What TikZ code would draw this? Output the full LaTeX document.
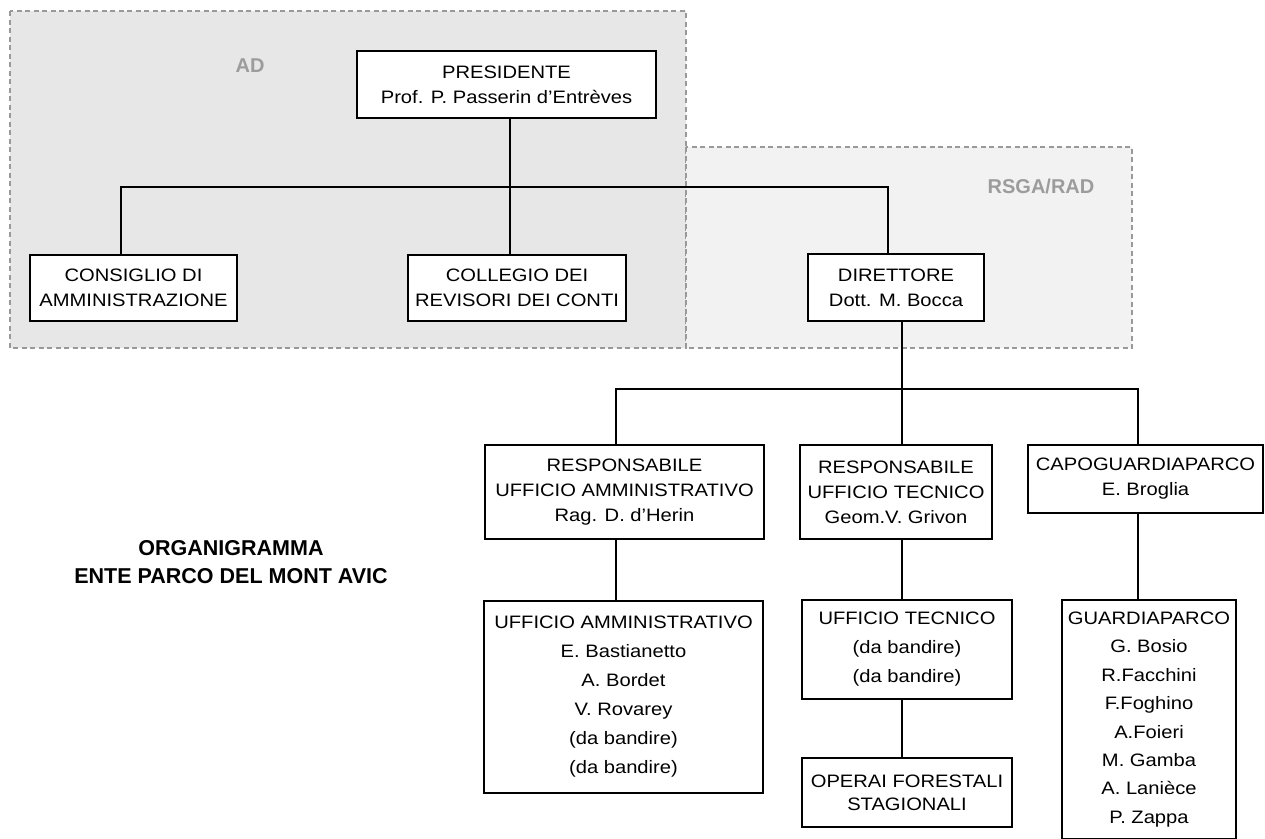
\documentclass[tikz,border=0pt]{standalone}
\usepackage{fontspec}
\setmainfont{Liberation Sans}[FakeStretch=1.12]
\newfontfamily\labelfont{Liberation Sans}
\definecolor{adfill}{HTML}{E7E7E7}
\definecolor{rsgafill}{HTML}{F2F2F2}
\definecolor{regionline}{HTML}{999999}
\definecolor{labelgray}{HTML}{9C9C9C}
\tikzset{
  box/.style={draw=black, line width=1.4pt, fill=white, align=center, inner sep=0pt,
    font=\fontsize{18}{25}\selectfont},
  listbox/.style={box, font=\fontsize{18}{29}\selectfont},
  conn/.style={draw=black, line width=1.3pt},
  region/.style={draw=regionline, line width=1.2pt, dash pattern=on 5pt off 3.5pt},
  grouplabel/.style={text=labelgray, font=\labelfont\bfseries\fontsize{20}{24}\selectfont},
}
\begin{document}
\begin{tikzpicture}[x=1pt,y=-1pt]
\useasboundingbox (0,0) rectangle (1265,838);
\fill[white] (0,0) rectangle (1265,838);
% regions
\fill[adfill] (10,11) rectangle (686,348);
\draw[region] (10,11) rectangle (686,348);
\fill[rsgafill] (686,147) rectangle (1132,348);
\draw[region] (686,147) rectangle (1132,348);
\node[grouplabel] (adlab) at (250,66) {AD};
\node[grouplabel] (rsgalab) at (1041,186) {RSGA/RAD};
% nodes
\node[box, minimum width=299pt, minimum height=67pt] (pres) at (506.5,84.5) {PRESIDENTE\\Prof. P. Passerin d'Entrèves};
\node[box, minimum width=207pt, minimum height=66pt] (cons) at (133.5,288) {CONSIGLIO DI\\AMMINISTRAZIONE};
\node[box, minimum width=218pt, minimum height=66pt] (coll) at (517,288) {COLLEGIO DEI\\REVISORI DEI CONTI};
\node[box, minimum width=176pt, minimum height=67pt] (dir) at (896,287.5) {DIRETTORE\\Dott. M. Bocca};
\node[box, minimum width=279pt, minimum height=94pt] (ramm) at (624.5,492) {RESPONSABILE\\UFFICIO AMMINISTRATIVO\\Rag. D. d'Herin};
\node[box, minimum width=192pt, minimum height=94pt] (rtec) at (896,492) {RESPONSABILE\\UFFICIO TECNICO\\Geom.V. Grivon};
\node[box, minimum width=235pt, minimum height=68pt] (capo) at (1145.5,479) {CAPOGUARDIAPARCO\\E. Broglia};
\node[listbox, minimum width=279pt, minimum height=192pt] (uamm) at (623.5,697) {UFFICIO AMMINISTRATIVO\\E. Bastianetto\\A. Bordet\\V. Rovarey\\(da bandire)\\(da bandire)};
\node[listbox, minimum width=210pt, minimum height=99pt] (utec) at (907,649.5) {UFFICIO TECNICO\\(da bandire)\\(da bandire)};
\node[box, minimum width=210pt, minimum height=69pt, font=\fontsize{18}{23}\selectfont] (oper) at (907,792.5) {OPERAI FORESTALI\\STAGIONALI};
\node[listbox, minimum width=174pt, minimum height=239pt, font=\fontsize{18}{28.4}\selectfont] (guard) at (1149,719.5) {GUARDIAPARCO\\G. Bosio\\R.Facchini\\F.Foghino\\A.Foieri\\M. Gamba\\A. Lanièce\\P. Zappa};
\node[font=\labelfont\bfseries\fontsize{21.5}{28}\selectfont, align=center] (title) at (231,562) {ORGANIGRAMMA\\ENTE PARCO DEL MONT AVIC};
% connector helper coordinates
\coordinate (barA) at (0,187);
\coordinate (barB) at (0,389);
\coordinate (xP) at (510,0);
\coordinate (xC) at (121,0);
\coordinate (xDtop) at (888,0);
\coordinate (xDbot) at (902,0);
\coordinate (xRA) at (616,0);
\coordinate (xCG) at (1138,0);
% connectors
\draw[conn] (pres.south -| xP) -- (coll.north -| xP);
\draw[conn] (cons.north -| xC) -- (barA -| xC) -- (barA -| xDtop) -- (dir.north -| xDtop);
\draw[conn] (dir.south -| xDbot) -- (rtec.north -| xDbot);
\draw[conn] (ramm.north -| xRA) -- (barB -| xRA) -- (barB -| xCG) -- (capo.north -| xCG);
\draw[conn] (ramm.south -| xRA) -- (uamm.north -| xRA);
\draw[conn] (rtec.south -| xDbot) -- (utec.north -| xDbot);
\draw[conn] (utec.south -| xDbot) -- (oper.north -| xDbot);
\draw[conn] (capo.south -| xCG) -- (guard.north -| xCG);
\end{tikzpicture}
\end{document}
